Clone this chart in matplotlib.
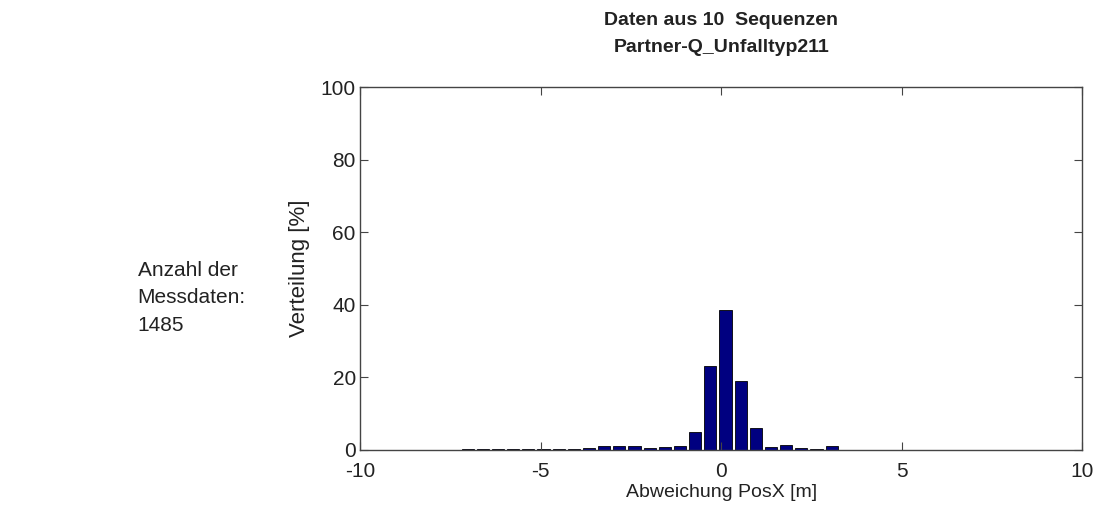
import numpy as np
import matplotlib
matplotlib.use("Agg")
import matplotlib.pyplot as plt

# ── Histogram data ───────────────────────────────────────────────────────────
bin_width = 0.42
bin_centers = 0.12 + bin_width * np.arange(-17, 8)
share_pct = [0.3, 0.3, 0.3, 0.3, 0.3, 0.3, 0.3, 0.4,
             0.6, 1.0, 1.0, 1.0, 0.6, 0.9, 1.2,
             5.0, 23.2, 38.6, 19.0, 6.0,
             0.9, 1.4, 0.6, 0.4, 1.1]
n_samples = 1485
n_sequences = 10
scenario = "Partner-Q_Unfalltyp211"

plt.rcParams.update({
    "font.family": ["Liberation Sans", "DejaVu Sans"],
    "axes.unicode_minus": False,
    "axes.edgecolor": "#444444",
    "axes.linewidth": 1.0,
    "xtick.direction": "in",
    "ytick.direction": "in",
    "xtick.major.size": 6,
    "ytick.major.size": 6,
    "xtick.top": True,
    "ytick.right": True,
    "xtick.color": "#444444",
    "ytick.color": "#444444",
    "xtick.labelcolor": "#222222",
    "ytick.labelcolor": "#222222",
})

fig = plt.figure(figsize=(11.01, 5.09), dpi=100)
ax = fig.add_axes([0.327, 0.116, 0.656, 0.713])

ax.bar(bin_centers, share_pct, width=bin_width * 0.8,
       color="#000080", edgecolor="#000000", linewidth=0.6)

ax.set_xlim(-10, 10)
ax.set_ylim(0, 100)
ax.set_xticks([-10, -5, 0, 5, 10])
ax.set_yticks([0, 20, 40, 60, 80, 100])
ax.tick_params(axis="x", labelsize=15, pad=9)
ax.tick_params(axis="y", labelsize=15, pad=3)
ax.set_xlabel("Abweichung PosX [m]", fontsize=14, labelpad=2, color="#222222")
ax.set_ylabel("Verteilung [%]", fontsize=16, labelpad=8, color="#222222")
ax.set_title(f"Daten aus {n_sequences}  Sequenzen\n{scenario}",
             fontsize=14, fontweight="bold", color="#222222", pad=25,
             linespacing=1.8)

fig.text(0.125, 0.415, f"Anzahl der\nMessdaten:\n{n_samples}",
         fontsize=15, color="#222222", ha="left", va="center", linespacing=1.55)

fig.savefig("out.png", dpi=100)
